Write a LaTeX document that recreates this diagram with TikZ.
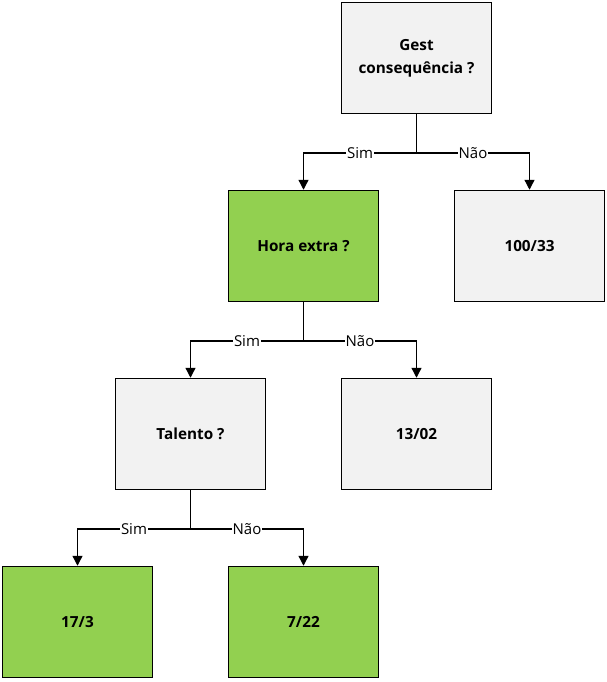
\documentclass[tikz,border=0pt]{standalone}
\usepackage{fontspec}
\setmainfont{Open Sans}
\usetikzlibrary{arrows.meta}
\definecolor{leafgreen}{HTML}{92D050}
\definecolor{boxgray}{HTML}{F2F2F2}
\begin{document}
\begin{tikzpicture}[x=1pt,y=1pt]
	\tikzstyle{box}=[draw=black, line width=1.5pt, minimum width=150pt, minimum height=111pt, align=center, font=\fontsize{15.3}{23}\selectfont\bfseries]
	\tikzstyle{grey}=[box, fill=boxgray]
	\tikzstyle{green}=[box, fill=leafgreen]
	\tikzstyle{link}=[draw=black, line width=1.3pt]
	\tikzstyle{arr}=[link, -{Triangle[width=10pt,length=10pt]}]
	\tikzstyle{lbl}=[fill=white, inner sep=1pt, font=\fontsize{15}{18}\selectfont]
	\useasboundingbox (0,0) rectangle (607,-682);
	\node [grey] (gest) at (416.5,-58) {Gest\\consequência ?};
	\node [green] (hora) at (303.5,-246) {Hora extra ?};
	\node [grey] (cem) at (529.5,-246) {100/33};
	\node [grey] (talento) at (190.5,-434) {Talento ?};
	\node [grey] (treze) at (416.5,-434) {13/02};
	\node [green] (dezessete) at (77.5,-622) {17/3};
	\node [green] (sete) at (303.5,-622) {7/22};
	\coordinate (b1) at (416.5,-153);
	\coordinate (b2) at (303.5,-341);
	\coordinate (b3) at (190.5,-529);
	\draw [link] (gest.south) -- (b1);
	\draw [arr] (b1) -| node [lbl, pos=0.25] {Sim} (hora.north);
	\draw [arr] (b1) -| node [lbl, pos=0.25] {Não} (cem.north);
	\draw [link] (hora.south) -- (b2);
	\draw [arr] (b2) -| node [lbl, pos=0.25] {Sim} (talento.north);
	\draw [arr] (b2) -| node [lbl, pos=0.25] {Não} (treze.north);
	\draw [link] (talento.south) -- (b3);
	\draw [arr] (b3) -| node [lbl, pos=0.25] {Sim} (dezessete.north);
	\draw [arr] (b3) -| node [lbl, pos=0.25] {Não} (sete.north);
\end{tikzpicture}
\end{document}
